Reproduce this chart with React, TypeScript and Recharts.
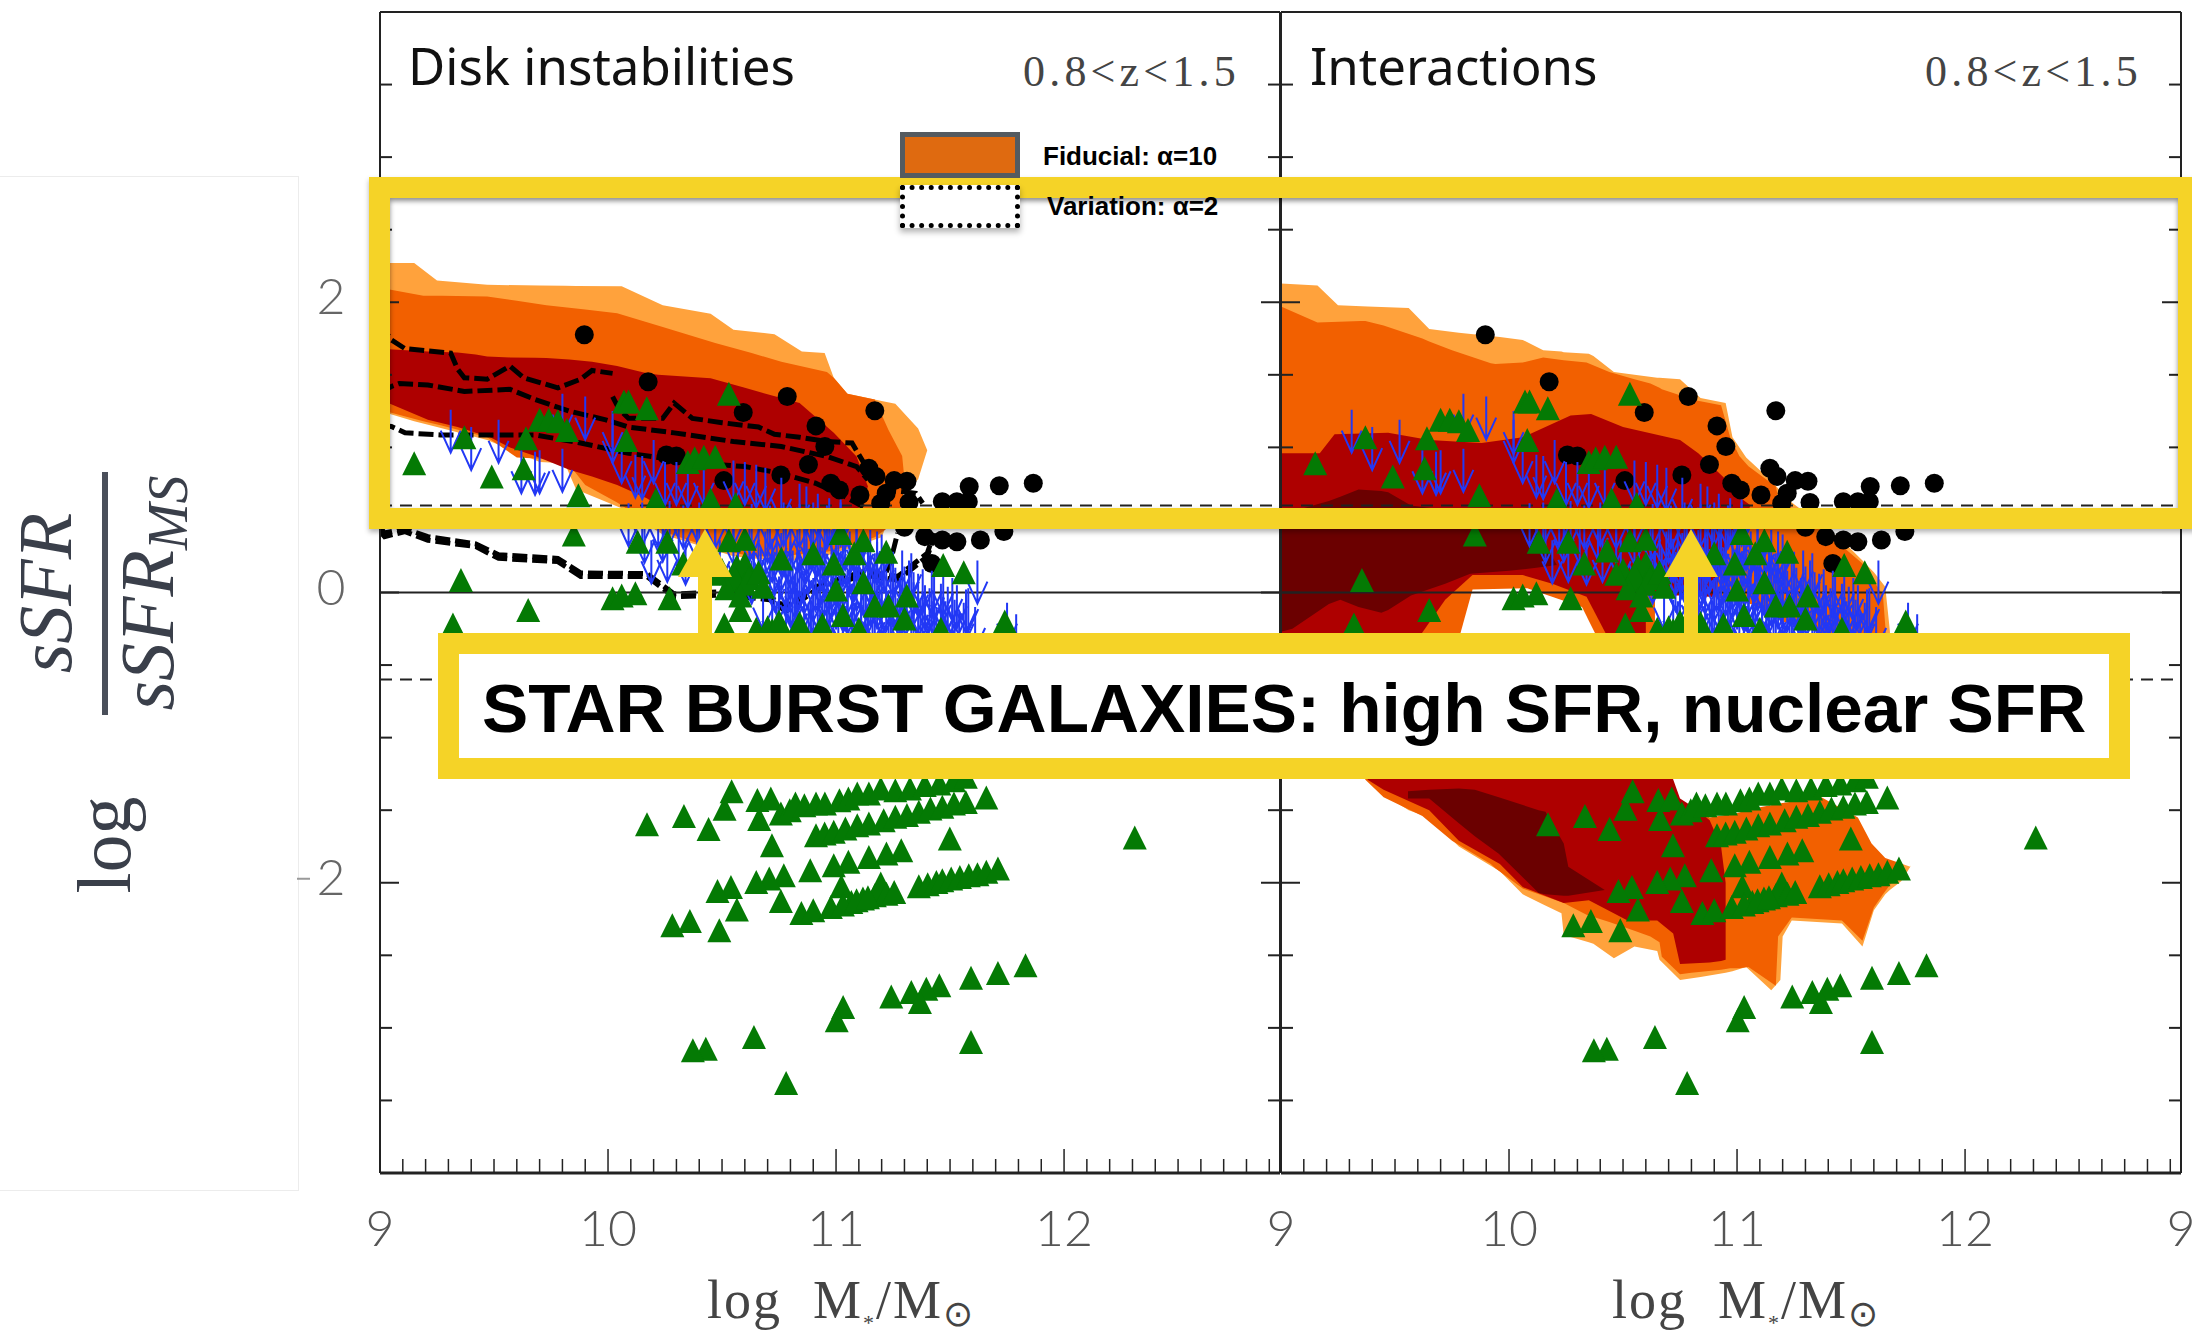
import React from 'react';
import {
	ComposedChart,
	Area,
	Line,
	Scatter,
	XAxis,
	YAxis,
	ReferenceLine,
} from 'recharts';

const X_MAX = 12.947;

// ---- contours, left panel (Disk instabilities)
const leftPaleX = [9, 9.15, 9.25, 9.47, 9.7, 9.81, 9.86, 10.06, 10.24, 10.45, 10.55, 10.73, 10.85, 10.95, 10.99, 11.05, 11.2, 11.26, 11.36, 11.4];
const leftPaleHi = [2.27, 2.27, 2.15, 2.12, 2.115, 2.113, 2.112, 2.11, 1.98, 1.92, 1.81, 1.78, 1.66, 1.65, 1.48, 1.37, 1.32, 1.3, 1.13, 0.98];
const leftPaleLo = [1.25, 1.18, 1.14, 1.05, 0.9, 0.89, 0.71, 0.58, 0.4, 0.3, 0.25, 0.22, 0.22, 0.25, 0.27, 0.3, 0.38, 0.62, 0.78, 0.98];
const leftOrangeX = [9, 9.19, 9.27, 9.47, 9.6, 9.73, 9.81, 9.9, 10.04, 10.24, 10.47, 10.63, 10.76, 10.96, 10.99, 11.05, 11.17, 11.23, 11.29, 11.3];
const leftOrangeHi = [2.1, 2.045, 2.045, 2.04, 2.01, 1.98, 1.965, 1.95, 1.925, 1.83, 1.72, 1.65, 1.59, 1.52, 1.48, 1.37, 1.33, 1.12, 0.94, 0.78];
const leftOrangeLo = [1.26, 1.18, 1.15, 1.07, 0.93, 0.92, 0.92, 0.74, 0.62, 0.42, 0.3, 0.25, 0.25, 0.28, 0.29, 0.32, 0.38, 0.45, 0.6, 0.78];
const leftRedX = [9, 9.21, 9.34, 9.42, 9.47, 9.57, 9.68, 9.73, 9.83, 9.93, 10.04, 10.17, 10.22, 10.45, 10.6, 10.84, 10.99, 11.09, 11.14];
const leftRedHi = [1.68, 1.66, 1.654, 1.64, 1.626, 1.62, 1.617, 1.615, 1.605, 1.59, 1.56, 1.51, 1.5, 1.477, 1.41, 1.305, 1.1, 0.937, 0.73];
const leftRedLo = [1.33, 1.19, 1.14, 1.1, 1.08, 1.0, 0.94, 0.91, 0.845, 0.8, 0.74, 0.65, 0.6, 0.5, 0.5, 0.5, 0.5, 0.55, 0.73];

// ---- contours, right panel (Interactions)
const rightPaleX = [9, 9.16, 9.25, 9.38, 9.47, 9.56, 9.65, 9.78, 9.96, 10.06, 10.15, 10.23, 10.24, 10.35, 10.37, 10.46, 10.55, 10.65, 10.66, 10.75, 10.84, 10.95, 10.98, 11.04, 11.15, 11.19, 11.2, 11.24, 11.46, 11.55, 11.6, 11.65, 11.67, 11.72, 11.76];
const rightPaleHi = [2.13, 2.115, 1.98, 1.97, 1.965, 1.96, 1.815, 1.79, 1.76, 1.74, 1.67, 1.66, 1.655, 1.645, 1.63, 1.52, 1.5, 1.48, 1.48, 1.47, 1.34, 1.305, 1.07, 0.93, 0.77, 0.7, 0.69, 0.62, 0.36, 0.22, 0.14, 0.04, -0.26, -1.6, -1.89];
const rightPaleLo = [-1, -1, -1, -1.29, -1.41, -1.5, -1.55, -1.75, -1.92, -2.08, -2.15, -2.21, -2.36, -2.41, -2.42, -2.52, -2.44, -2.47, -2.53, -2.67, -2.65, -2.62, -2.61, -2.58, -2.74, -2.67, -2.37, -2.26, -2.28, -2.44, -2.19, -2.08, -2.05, -1.99, -1.89];
const rightOrangeX = [9, 9.16, 9.35, 9.37, 9.45, 9.62, 9.65, 9.75, 9.92, 9.94, 10.06, 10.15, 10.24, 10.34, 10.44, 10.55, 10.62, 10.66, 10.67, 10.75, 10.8, 10.93, 10.97, 11.01, 11.05, 11.17, 11.18, 11.24, 11.46, 11.55, 11.6, 11.64, 11.73];
const rightOrangeHi = [1.97, 1.86, 1.87, 1.87, 1.84, 1.75, 1.73, 1.67, 1.58, 1.575, 1.585, 1.62, 1.6, 1.585, 1.52, 1.47, 1.44, 1.41, 1.4, 1.36, 1.33, 1.29, 1.07, 0.94, 0.87, 0.73, 0.66, 0.58, 0.32, 0.2, 0.08, -0.02, -1.89];
const rightOrangeLo = [-1, -1, -1.2, -1.29, -1.41, -1.54, -1.58, -1.71, -1.87, -1.9, -2.04, -2.09, -2.14, -2.22, -2.27, -2.33, -2.37, -2.41, -2.51, -2.63, -2.62, -2.6, -2.59, -2.59, -2.58, -2.71, -2.37, -2.24, -2.26, -2.4, -2.17, -2.08, -1.89];
const rightRedX = [9, 9.17, 9.235, 9.47, 9.65, 9.88, 10.06, 10.27, 10.36, 10.5, 10.75, 10.83, 10.95, 10.99, 11.06];
const rightRedHi = [0.96, 0.96, 1.09, 1.1, 1.05, 1.03, 1.07, 1.22, 1.23, 1.14, 1.05, 0.96, 0.78, 0.68, 0.6];
const rightRedLo = [-0.9, -0.9, -0.9, -0.9, -0.9, -0.9, -0.9, -0.9, -0.9, -0.9, -0.9, -0.5, 0.3, 0.4, 0.6];
const rightRedLowX = [9.38, 9.45, 9.65, 9.78, 9.96, 10.06, 10.24, 10.35, 10.52, 10.65, 10.72, 10.75, 10.88, 10.93, 10.95];
const rightRedLowHi = [-0.9, -0.9, -0.9, -0.9, -0.9, -0.9, -0.9, -0.9, -0.9, -0.9, -1.25, -1.4, -1.57, -1.75, -2.0];
const rightRedLowLo = [-1.29, -1.36, -1.5, -1.71, -1.87, -2.03, -2.14, -2.12, -2.26, -2.26, -2.35, -2.56, -2.55, -2.54, -2.53];
const rightBrownX = [9, 9.05, 9.21, 9.26, 9.34, 9.44, 9.47, 9.57, 9.72, 9.83, 10.0, 10.12, 10.21];
const rightBrownHi = [0.55, 0.56, 0.63, 0.66, 0.71, 0.7, 0.69, 0.6, 0.57, 0.55, 0.5, 0.44, 0.19];
const rightBrownLo = [-0.27, -0.25, -0.08, -0.05, -0.1, -0.14, -0.12, -0.02, 0.06, 0.13, 0.15, 0.17, 0.19];
const rightBrownLowX = [9.557, 9.65, 9.78, 9.85, 9.955, 10.13, 10.16, 10.24, 10.26, 10.42];
const rightBrownLowHi = [-1.37, -1.36, -1.35, -1.36, -1.41, -1.5, -1.51, -1.73, -1.89, -2.05];
const rightBrownLowLo = [-1.42, -1.42, -1.59, -1.68, -1.8, -2.07, -2.08, -2.09, -2.09, -2.05];
const rightRingAX = [9.6, 9.72, 9.84, 10.06, 10.19, 10.34, 10.43];
const rightRingAHi = [-0.32, -0.05, 0.12, 0.12, 0.06, -0.03, -0.3];
const rightRingALo = [-0.9, -0.9, -0.9, -0.9, -0.9, -0.9, -0.9];
const rightHoleAX = [9.78, 9.84, 10.08, 10.32, 10.39];
const rightHoleAHi = [-0.32, 0.02, 0.03, -0.1, -0.32];
const rightHoleALo = [-0.9, -0.9, -0.9, -0.9, -0.9];
const rightRingBX = [10.6, 10.66];
const rightRingBHi = [0.0, 0.0];
const rightRingBLo = [-0.9, -0.9];
const rightHoleBX = [10.64, 10.66, 10.7, 10.75, 10.88, 11.0, 11.1, 11.2, 11.37, 11.53, 11.59, 11.65, 11.76];
const rightHoleBHi = [-0.03, -0.02, -0.02, -0.02, -0.03, -0.05, -0.1, -0.2, -0.28, -0.28, -0.28, -0.28, -1.89];
const rightHoleBLo = [-0.3, -0.5, -1.2, -1.42, -1.55, -1.52, -1.48, -1.45, -1.41, -1.55, -1.73, -1.83, -1.89];

// ---- dashed alpha=2 contour lines, left panel only
const dashAX = [9, 9.05, 9.11, 9.31, 9.34, 9.37, 9.47, 9.57, 9.63, 9.78, 9.88, 9.93, 10.02];
const dashAY = [1.85, 1.74, 1.68, 1.65, 1.54, 1.48, 1.47, 1.56, 1.48, 1.41, 1.47, 1.53, 1.51];
const dashA2X = [10.02, 10.05, 10.09, 10.24, 10.29, 10.37, 10.5, 10.66, 10.73, 10.84, 10.96, 11.07, 11.14, 11.22, 11.35, 11.38];
const dashA2Y = [1.35, 1.26, 1.2, 1.2, 1.305, 1.2, 1.17, 1.14, 1.09, 1.07, 1.04, 1.03, 0.845, 0.707, 0.684, 0.615];
const dashBX = [9, 9.05, 9.085, 9.21, 9.37, 9.57, 9.68, 9.83, 9.99, 10.09, 10.29, 10.55, 10.76, 10.96, 11.09, 11.14];
const dashBY = [1.38, 1.42, 1.44, 1.43, 1.385, 1.4, 1.33, 1.25, 1.19, 1.14, 1.1, 1.04, 1.006, 0.937, 0.868, 0.776];
const dashCX = [9, 9.05, 9.11, 9.265, 9.52, 9.68, 9.88, 10.09, 10.24, 10.4, 10.6, 10.76, 10.91, 11.04, 11.12];
const dashCY = [1.15, 1.144, 1.1, 1.086, 1.086, 1.086, 1.03, 0.96, 0.925, 0.89, 0.868, 0.82, 0.753, 0.66, 0.59];
const dashDX = [9, 9.02, 9.11, 9.21, 9.42, 9.52, 9.78, 9.88, 10.17, 10.29, 10.5, 10.71, 10.78, 10.91, 11.12, 11.27, 11.4, 11.43];
const dashDY = [0.42, 0.385, 0.42, 0.36, 0.316, 0.235, 0.213, 0.11, 0.11, -0.03, -0.017, -0.05, -0.13, 0.017, 0.12, 0.086, 0.247, 0.385];
const dashEY = [0.45, 0.41, 0.44, 0.385, 0.335, 0.26, 0.235, 0.135, 0.13, -0.01, 0.005, -0.03, -0.1, 0.04, 0.145, 0.11, 0.27, 0.41];
const dashFX = [11.22, 11.24, 11.27];
const dashFY = [0.14, 0.22, 0.41];

// ---- black circles
const circleMass = [9.896, 10.176, 10.786, 11.17, 10.593, 10.912, 10.951, 10.879, 10.256, 10.3, 11.144, 11.175, 11.255, 11.311, 11.584, 11.716, 11.865, 10.508, 10.758, 10.977, 11.015, 11.105, 11.22, 11.196, 11.466, 11.53, 11.58, 11.633, 11.53, 11.466, 11.389, 11.736, 11.32, 11.42, 11.3];
const circleSsfr = [1.776, 1.452, 1.351, 1.252, 1.24, 1.148, 1.006, 0.882, 0.948, 0.94, 0.856, 0.8, 0.771, 0.767, 0.73, 0.735, 0.753, 0.771, 0.81, 0.753, 0.707, 0.672, 0.684, 0.615, 0.626, 0.626, 0.626, 0.362, 0.35, 0.362, 0.385, 0.42, 0.62, 0.2, 0.45];

// ---- green triangles
const triangleMass = [
	9.15, 9.37, 9.49, 9.63, 9.64, 9.7, 9.74, 9.78, 9.82, 10.07, 10.09, 10.17, 10.08, 10.53, 10.35, 10.38, 10.42, 10.47,
	9.87, 10.21, 10.45, 10.56, 9.85, 10.13, 10.26, 9.355, 9.65, 9.32, 10.02, 10.06, 10.12, 10.27, 10.33, 10.58, 10.51,
	10.65, 10.72, 10.84, 10.94, 10.5, 10.565, 10.6, 10.53, 10.6, 10.565, 10.76, 10.9, 10.99, 11.08, 11.02, 11.12, 11.22,
	11.47, 11.56, 11.74, 10.6, 11.03, 11.17, 11.23, 11.31, 11.3, 11.0, 11.12, 11.1, 11.46,
	10.55, 10.62, 10.66, 10.52, 10.58, 10.68, 10.47, 10.43, 10.7, 10.75,
	10.171, 10.333, 10.441, 10.511, 10.542, 10.663, 10.655, 10.714,
	10.758, 10.797, 10.822, 10.861, 10.912, 10.951, 11.015, 11.054, 11.093, 11.144, 11.196, 11.26, 11.324, 11.389, 11.453, 11.517, 11.569,
	10.912, 10.95, 10.99, 11.041, 11.093, 11.144, 11.209, 11.26, 11.311, 11.363, 11.414, 11.466, 11.517, 11.569, 11.659,
	10.719, 11.499, 11.286, 11.221, 11.144, 11.054, 10.99, 10.887, 10.771, 10.707, 10.65, 10.539, 10.48,
	10.565, 10.359, 10.282, 10.488, 10.758, 10.848, 10.9, 10.977, 11.023, 11.067, 11.118, 11.17, 11.196, 11.221, 11.255, 11.03, 11.09, 11.14,
	11.363, 11.402, 11.44, 11.466, 11.505, 11.543, 11.582, 11.62, 11.659, 11.71,
	12.31, 11.831, 11.71, 11.592, 11.453, 11.396, 11.33, 11.242, 11.368, 11.031, 11.003, 10.64, 10.429, 10.372, 11.592, 10.781,
];
const triangleSsfr = [
	0.89, 1.07, 0.8, 0.856, 1.063, 1.19, 1.19, 1.18, 1.12, 1.316, 1.316, 1.27, 1.05, 1.37, 0.9, 0.925, 0.935, 0.935,
	0.67, 0.64, 0.64, 0.61, 0.4, 0.35, 0.35, 0.086, -0.12, -0.22, -0.04, -0.02, -0.005, -0.04, 0.2, -0.12, -0.22,
	-0.25, -0.26, -0.21, -0.22, 0.155, 0.18, 0.2, 0.36, 0.37, 0.086, 0.235, 0.27, 0.2, 0.27, 0.41, 0.36, 0.28,
	0.19, 0.14, -0.2, 0.06, -0.155, -0.09, -0.09, -0.02, -0.18, 0.02, 0.07, -0.25, -0.25,
	0.12, 0.1, 0.14, 0.03, -0.02, 0.04, 0.13, 0.29, -0.24, -0.2,
	-1.597, -1.54, -1.63, -1.49, -1.37, -1.56, -1.43, -1.42,
	-1.523, -1.5, -1.454, -1.466, -1.454, -1.454, -1.431, -1.42, -1.385, -1.385, -1.35, -1.362, -1.35, -1.327, -1.316, -1.293, -1.27,
	-1.672, -1.66, -1.649, -1.626, -1.603, -1.592, -1.569, -1.546, -1.534, -1.511, -1.489, -1.477, -1.454, -1.443, -1.413,
	-1.741, -1.695, -1.776, -1.799, -1.822, -1.856, -1.879, -1.914, -1.948, -1.971, -1.994, -2.029, -2.057,
	-2.185, -2.263, -2.293, -2.328, -2.125, -2.208, -2.19, -2.167, -2.024, -2.132, -2.109, -2.086, -2.006, -2.075, -2.063, -2.15, -2.12, -2.1,
	-2.024, -2.01, -1.995, -1.983, -1.971, -1.96, -1.949, -1.942, -1.925, -1.902,
	-1.689, -2.569, -2.622, -2.654, -2.707, -2.73, -2.753, -2.783, -2.822, -2.856, -2.948, -3.063, -3.144, -3.155, -3.098, -3.38,
];

// ---- blue upper limits, value is the top of the arrow
const arrowMass = [
	9.31, 9.4, 9.52, 9.62, 9.68, 9.7, 9.8, 9.8, 9.9, 10.02, 10.02, 10.06, 10.12, 10.2, 10.15, 10.25, 10.3, 10.35, 10.42, 10.55, 10.6, 10.65, 10.69,
	10.76, 10.84, 10.87, 10.92, 10.97, 11.02,
	10.09, 10.15, 10.22, 10.27, 10.33, 10.4, 10.47, 10.55, 10.63, 10.71, 10.77, 10.84, 10.9, 10.96, 11.02,
	10.16, 10.24, 10.31, 10.39, 10.47, 10.55, 10.62, 10.7, 10.78, 10.86, 10.93, 11.01, 11.09,
	10.19, 10.26, 10.34, 10.41, 10.49, 10.57, 10.64, 10.72, 10.8, 10.87, 10.95, 11.03, 11.1, 11.18,
	10.63, 10.71, 10.78, 10.85, 10.93, 11.0, 11.08, 11.15, 11.24, 11.32,
	10.75, 10.82, 10.9, 10.98, 11.05, 11.13, 11.2, 11.28, 11.36, 11.43, 11.51,
	10.83, 10.9, 10.97, 11.05, 11.13, 11.2, 11.28, 11.36, 11.43, 11.51, 11.57,
	10.93, 11.03, 11.14, 11.24, 11.34, 11.44, 11.54, 11.61,
	10.68, 10.74, 10.81, 10.88, 11.07, 11.16, 11.27, 11.38, 11.48,
	11.62, 11.75, 11.79,
	// densest part of the cloud
	10.66, 10.69, 10.74, 10.76, 10.8, 10.83, 10.87, 10.89, 10.92, 10.95, 10.98, 11.0, 11.04, 11.06, 11.09, 11.12, 11.15, 11.18, 11.2,
	10.67, 10.73, 10.76, 10.81, 10.84, 10.88, 10.91, 10.94, 10.99, 11.02, 11.06, 11.08, 11.12, 11.14, 11.17, 11.21, 11.25, 11.29, 11.33,
	10.73, 10.79, 10.83, 10.86, 10.91, 10.95, 10.98, 11.02, 11.05, 11.09, 11.12, 11.16, 11.19, 11.22, 11.26, 11.3, 11.34, 11.38, 11.42, 11.47,
	10.8, 10.86, 10.92, 10.96, 11.0, 11.03, 11.07, 11.11, 11.15, 11.18, 11.22, 11.25, 11.31, 11.34, 11.39, 11.41, 11.46, 11.49, 11.53, 11.58,
	10.72, 10.78, 10.89, 10.94, 11.01, 11.08, 11.11, 11.17, 11.23, 11.29, 11.33, 11.37, 11.42, 11.47, 11.52, 11.56,
];
const arrowTop = [
	1.26, 1.14, 1.19, 0.98, 0.97, 0.98, 1.37, 0.99, 1.35, 1.19, 1.25, 1.05, 0.95, 1.05, 0.94, 0.9, 0.9, 0.88, 0.9, 0.91, 0.9, 0.88, 0.86,
	0.79, 0.75, 0.73, 0.68, 0.65, 0.64,
	0.615, 0.62, 0.61, 0.63, 0.6, 0.62, 0.6, 0.62, 0.61, 0.6, 0.62, 0.61, 0.62, 0.6, 0.62,
	0.5, 0.51, 0.49, 0.52, 0.5, 0.49, 0.51, 0.5, 0.52, 0.49, 0.51, 0.5, 0.49,
	0.36, 0.37, 0.35, 0.37, 0.36, 0.34, 0.36, 0.37, 0.35, 0.37, 0.36, 0.34, 0.37, 0.35,
	0.22, 0.24, 0.21, 0.23, 0.22, 0.2, 0.24, 0.21, 0.23, 0.22,
	0.11, 0.12, 0.1, 0.12, 0.09, 0.11, 0.12, 0.1, 0.13, 0.11, 0.1,
	0.0, 0.02, -0.01, 0.01, -0.02, 0.0, 0.02, -0.01, 0.01, 0.0, 0.02,
	-0.12, -0.1, -0.13, -0.11, -0.12, -0.1, -0.13, -0.1,
	0.04, -0.06, 0.05, -0.07, -0.05, -0.06, -0.04, -0.05, -0.06,
	0.22, -0.07, -0.15,
	0.44, 0.42, 0.45, 0.41, 0.44, 0.43, 0.42, 0.46, 0.41, 0.44, 0.43, 0.41, 0.45, 0.42, 0.44, 0.41, 0.43, 0.42, 0.4,
	0.3, 0.28, 0.31, 0.29, 0.27, 0.3, 0.28, 0.31, 0.29, 0.27, 0.3, 0.28, 0.31, 0.29, 0.27, 0.3, 0.28, 0.29, 0.27,
	0.17, 0.16, 0.18, 0.15, 0.17, 0.14, 0.18, 0.16, 0.15, 0.17, 0.14, 0.18, 0.16, 0.15, 0.17, 0.18, 0.14, 0.16, 0.15, 0.14,
	0.06, 0.05, 0.04, 0.07, 0.05, 0.03, 0.06, 0.04, 0.07, 0.05, 0.03, 0.06, 0.04, 0.07, 0.05, 0.03, 0.06, 0.04, 0.05, 0.03,
	-0.05, -0.04, -0.06, -0.03, -0.05, -0.07, -0.04, -0.06, -0.03, -0.05, -0.07, -0.04, -0.06, -0.03, -0.05, -0.07,
];

// ---- axes
const xMajor = [9, 10, 11, 12];
const yMajor = [2, 0, -2];
const yTicks = [3.5, 3, 2.5, 2, 1.5, 1, 0.5, 0, -0.5, -1, -1.5, -2, -2.5, -3, -3.5];
const xTicks: number[] = [];
for (let i = 90; i < 130; i++) xTicks.push(i / 10);

const PALE = '#FFA23C';
const ORANGE = '#F26000';
const RED = '#AE0000';
const BROWN = '#6B0000';
const BLUE = '#2238F5';
const GREEN = '#047A04';
const YELLOW = '#F5D327';

const band = (xs: number[], hi: number[], lo: number[]) =>
	xs.map((x, i) => ({ x, range: [lo[i], hi[i]] }));
const pts = (xs: number[], ys: number[]) => xs.map((x, i) => ({ x, y: ys[i] }));

const TriangleMark = ({ cx, cy }: any) => (
	<polygon
		points={`${cx},${cy - 12} ${cx - 12},${cy + 12} ${cx + 12},${cy + 12}`}
		fill={GREEN}
	/>
);
const CircleMark = ({ cx, cy }: any) => (
	<circle cx={cx} cy={cy} r={9.5} fill='#000' />
);
const ArrowMark = ({ cx, cy }: any) => (
	<path
		d={`M${cx},${cy} V${cy + 43} M${cx - 10},${cy + 21} L${cx},${cy + 43} L${cx + 10},${cy + 21}`}
		fill='none'
		stroke={BLUE}
		strokeWidth={2}
	/>
);

const bottomTick = (showEdge: boolean) => ({ x, y, payload }: any) => {
	const major = xMajor.includes(payload.value);
	const edge = payload.value === X_MAX;
	if (edge && !showEdge) return <g />;
	return (
		<g>
			{!edge && <line x1={x} x2={x} y1={y} y2={y - (major ? 24 : 14)} stroke='#222' strokeWidth={1.5} />}
			{(major || edge) && (
				<text x={x} y={y + 73} textAnchor='middle' fontFamily='Lato' fontWeight={300} fontSize={50} fill='#555'>
					{edge ? 9 : payload.value}
				</text>
			)}
		</g>
	);
};
const TopTick = ({ x, y, payload }: any) => {
	const major = xMajor.includes(payload.value);
	return <line x1={x} x2={x} y1={y} y2={y + (major ? 24 : 13)} stroke='#222' strokeWidth={1.5} />;
};
const leftTick = (labels: boolean) => ({ x, y, payload }: any) => {
	const major = yMajor.includes(payload.value);
	return (
		<g>
			<line x1={x} x2={x + (major ? 19 : 12)} y1={y} y2={y} stroke='#222' strokeWidth={2} />
			{labels && major && (
				<text x={331} y={y + 12} textAnchor='middle' fontFamily='Lato' fontWeight={300} fontSize={50} fill='#666'>
					{Math.abs(payload.value)}
				</text>
			)}
			{labels && payload.value < 0 && major && (
				<line x1={297} x2={310} y1={y - 4} y2={y - 4} stroke='#999' strokeWidth={2} />
			)}
		</g>
	);
};
const RightTick = ({ x, y, payload }: any) => {
	const major = yMajor.includes(payload.value);
	return <line x1={x} x2={x - (major ? 19 : 12)} y1={y} y2={y} stroke='#222' strokeWidth={2} />;
};

const contour = (key: string, data: any[], fill: string) => (
	<Area
		key={key}
		data={data}
		dataKey='range'
		type='linear'
		fill={fill}
		fillOpacity={1}
		stroke='none'
		dot={false}
		activeDot={false}
		isAnimationActive={false}
	/>
);
const dashed = (key: string, data: any[]) => (
	<Line
		key={key}
		data={data}
		dataKey='y'
		type='linear'
		stroke='#000'
		strokeWidth={5}
		strokeDasharray='15 5'
		dot={false}
		activeDot={false}
		isAnimationActive={false}
	/>
);

const leftContours = [
	contour('lp', band(leftPaleX, leftPaleHi, leftPaleLo), PALE),
	contour('lo', band(leftOrangeX, leftOrangeHi, leftOrangeLo), ORANGE),
	contour('lr', band(leftRedX, leftRedHi, leftRedLo), RED),
];
const rightContours = [
	contour('rp', band(rightPaleX, rightPaleHi, rightPaleLo), PALE),
	contour('ro', band(rightOrangeX, rightOrangeHi, rightOrangeLo), ORANGE),
	contour('rr', band(rightRedX, rightRedHi, rightRedLo), RED),
	contour('rrl', band(rightRedLowX, rightRedLowHi, rightRedLowLo), RED),
	contour('rb', band(rightBrownX, rightBrownHi, rightBrownLo), BROWN),
	contour('rbl', band(rightBrownLowX, rightBrownLowHi, rightBrownLowLo), BROWN),
	contour('rra', band(rightRingAX, rightRingAHi, rightRingALo), ORANGE),
	contour('rha', band(rightHoleAX, rightHoleAHi, rightHoleALo), '#fff'),
	contour('rrb', band(rightRingBX, rightRingBHi, rightRingBLo), ORANGE),
	contour('rhb', band(rightHoleBX, rightHoleBHi, rightHoleBLo), '#fff'),
];
const leftLines = [
	dashed('a', pts(dashAX, dashAY)),
	dashed('a2', pts(dashA2X, dashA2Y)),
	dashed('b', pts(dashBX, dashBY)),
	dashed('c', pts(dashCX, dashCY)),
	dashed('d', pts(dashDX, dashDY)),
	dashed('e', pts(dashDX, dashEY)),
	dashed('f', pts(dashFX, dashFY)),
];

const circles = pts(circleMass, circleSsfr);
const triangles = pts(triangleMass, triangleSsfr);
const arrows = pts(arrowMass, arrowTop);

const Panel = ({ left, right, areas, lines, labels, edge }: any) => (
	<div style={{ position: 'absolute', left: 0, top: 0 }}>
		<ComposedChart
			width={2192}
			height={1338}
			margin={{ left: left - 1, right: right - 1, top: 11, bottom: 164 }}
			style={{ overflow: 'visible' }}
		>
			<XAxis
				dataKey='x'
				type='number'
				domain={[9, X_MAX]}
				allowDataOverflow
				ticks={[...xTicks, X_MAX]}
				interval={0}
				height={1}
				tickSize={0}
				tickMargin={0}
				tickLine={false}
				axisLine={{ stroke: '#222', strokeWidth: 3 }}
				tick={bottomTick(edge)}
			/>
			<XAxis
				xAxisId='top'
				orientation='top'
				type='number'
				domain={[9, X_MAX]}
				allowDataOverflow
				ticks={xTicks}
				interval={0}
				height={1}
				tickSize={0}
				tickMargin={0}
				tickLine={false}
				axisLine={{ stroke: '#222', strokeWidth: 2 }}
				tick={TopTick}
			/>
			<YAxis
				type='number'
				domain={[-4, 4]}
				allowDataOverflow
				ticks={yTicks}
				interval={0}
				width={1}
				tickSize={0}
				tickMargin={0}
				tickLine={false}
				axisLine={{ stroke: '#222', strokeWidth: 2 }}
				tick={leftTick(labels)}
			/>
			<YAxis
				yAxisId='r'
				orientation='right'
				type='number'
				domain={[-4, 4]}
				allowDataOverflow
				ticks={yTicks}
				interval={0}
				width={1}
				tickSize={0}
				tickMargin={0}
				tickLine={false}
				axisLine={{ stroke: '#222', strokeWidth: 2 }}
				tick={RightTick}
			/>
			{areas}
			<Scatter data={circles} dataKey='y' shape={CircleMark} isAnimationActive={false} />
			<Scatter data={arrows} dataKey='y' shape={ArrowMark} isAnimationActive={false} />
			{lines}
			<Scatter data={triangles} dataKey='y' shape={TriangleMark} isAnimationActive={false} />
			<ReferenceLine y={0} stroke='#222' strokeWidth={2} />
			<ReferenceLine y={0.6} stroke='#222' strokeWidth={2} strokeDasharray='12 8' />
			<ReferenceLine y={-0.6} stroke='#222' strokeWidth={2} strokeDasharray='12 8' />
		</ComposedChart>
	</div>
);

const abs = (style: React.CSSProperties): React.CSSProperties => ({ position: 'absolute', ...style });
const SHADOW = '0 3px 5px rgba(0,0,0,.3), inset 0 3px 5px rgba(0,0,0,.45)';
const serif = "'Liberation Serif', serif";

const MassLabel = ({ left }: { left: number }) => (
	<div style={abs({ left, top: 1270, fontFamily: serif, fontSize: 54, letterSpacing: 2, color: '#444', whiteSpace: 'pre', lineHeight: '60px' })}>
		log  M
		<span style={{ fontSize: 22, verticalAlign: -12 }}>*</span>
		/M
		<span style={{ fontSize: 36, verticalAlign: -8 }}>⊙</span>
	</div>
);

const YellowArrow = ({ x }: { x: number }) => (
	<>
		<div style={abs({ left: x - 7, top: 570, width: 14, height: 70, background: YELLOW })} />
		<div
			style={abs({
				left: x - 27,
				top: 529,
				width: 54,
				height: 48,
				background: YELLOW,
				clipPath: 'polygon(50% 0, 100% 100%, 0 100%)',
			})}
		/>
	</>
);

const Rotated = ({ cx, cy, size, children, italic = true }: any) => (
	<div
		style={abs({
			left: cx,
			top: cy,
			transform: 'translate(-50%,-50%) rotate(-90deg)',
			fontFamily: serif,
			fontStyle: italic ? 'italic' : 'normal',
			fontSize: size,
			color: '#3a3f4a',
			whiteSpace: 'nowrap',
			lineHeight: 1,
		})}
	>
		{children}
	</div>
);

const zText: React.CSSProperties = { top: 46, fontFamily: serif, fontSize: 44, letterSpacing: 4.2, color: '#444', whiteSpace: 'nowrap' };
const titleText: React.CSSProperties = { top: 30, fontFamily: 'Noto Sans', fontSize: 51, color: '#111', whiteSpace: 'nowrap' };
const legendText: React.CSSProperties = { fontFamily: 'Liberation Sans', fontWeight: 700, fontSize: 26, color: '#000', whiteSpace: 'nowrap', lineHeight: '28px' };

export default function App() {
	return (
		<div style={abs({ left: 0, top: 0, width: 2192, height: 1338, overflow: 'hidden', background: '#fff' })}>
			{/* y label card */}
			<div style={abs({ left: -2, top: 176, width: 299, height: 1013, border: '1px solid #ececec' })} />
			<Rotated cx={45} cy={593} size={76}>sSFR</Rotated>
			<div style={abs({ left: 102, top: 472, width: 6, height: 243, background: '#4a4f5a' })} />
			<Rotated cx={152} cy={593} size={76}>
				sSFR<span style={{ fontSize: 56, verticalAlign: -14 }}>MS</span>
			</Rotated>
			<Rotated cx={104} cy={845} size={76} italic={false}>log</Rotated>

			<Panel left={380} right={912} areas={leftContours} lines={leftLines} labels edge={false} />
			<Panel left={1281} right={11} areas={rightContours} lines={null} labels={false} edge />

			{/* panel titles */}
			<div style={abs({ left: 408, ...titleText })}>Disk instabilities</div>
			<div style={abs({ left: 1310, ...titleText })}>Interactions</div>
			<div style={abs({ left: 1023, ...zText })}>0.8&lt;z&lt;1.5</div>
			<div style={abs({ left: 1925, ...zText })}>0.8&lt;z&lt;1.5</div>
			<MassLabel left={707} />
			<MassLabel left={1612} />

			{/* highlight frames drawn over the figure */}
			<div style={abs({ left: 369, top: 177, width: 1830, height: 352, boxSizing: 'border-box', border: `21px solid ${YELLOW}`, boxShadow: SHADOW })} />
			<YellowArrow x={705} />
			<YellowArrow x={1691} />
			<div style={abs({ left: 438, top: 633, width: 1692, height: 146, boxSizing: 'border-box', border: `21px solid ${YELLOW}`, background: '#fff' })} />
			<div style={abs({ left: 482, top: 670, fontFamily: 'Liberation Sans', fontWeight: 700, fontSize: 69.3, color: '#000', whiteSpace: 'nowrap', lineHeight: '76px' })}>
				STAR BURST GALAXIES: high SFR, nuclear SFR
			</div>

			{/* legend */}
			<div style={abs({ left: 900, top: 132, width: 120, height: 46, boxSizing: 'border-box', border: '5px solid #555b60', background: '#DF6A10' })} />
			<div style={abs({ left: 900, top: 185, width: 120, height: 43, boxSizing: 'border-box', border: '5px dotted #000', background: '#fff', boxShadow: '0 4px 6px rgba(0,0,0,.3)' })} />
			<div style={abs({ ...legendText, left: 1043, top: 142 })}>Fiducial: α=10</div>
			<div style={abs({ ...legendText, left: 1047, top: 192 })}>Variation: α=2</div>
		</div>
	);
}
